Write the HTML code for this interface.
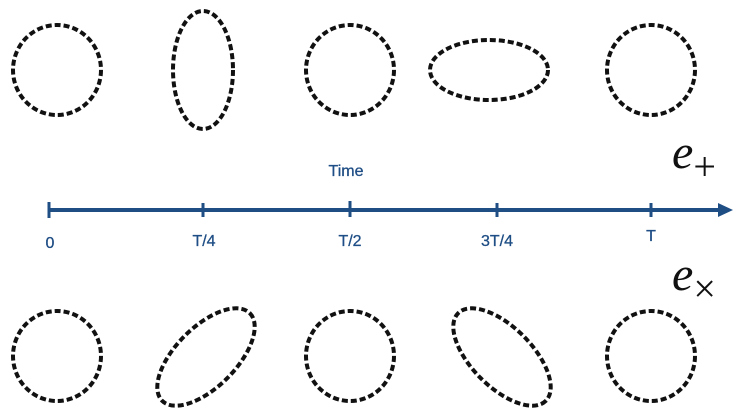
<!DOCTYPE html>
<html><head><meta charset="utf-8"><style>
html,body{margin:0;padding:0;background:#fff;}
svg{display:block;}
.lbl{font-family:"Liberation Sans",Arial,sans-serif;}
.math{font-family:"Liberation Serif",serif;}
</style></head><body>
<svg width="743" height="417" viewBox="0 0 743 417">
<g fill="none" stroke="#111" stroke-width="4" stroke-dasharray="6 3">
  <ellipse cx="57" cy="70" rx="44" ry="45"/>
  <ellipse cx="203" cy="70" rx="30" ry="59"/>
  <ellipse cx="350" cy="70" rx="44" ry="45"/>
  <ellipse cx="489" cy="70" rx="59" ry="30"/>
  <ellipse cx="651" cy="70" rx="44" ry="45"/>
</g>
<g fill="none" stroke="#111" stroke-width="4" stroke-dasharray="6 3">
  <ellipse cx="57" cy="356" rx="44" ry="45"/>
  <ellipse cx="206" cy="357" rx="62" ry="30" transform="rotate(-45 206 357)"/>
  <ellipse cx="350" cy="356" rx="44" ry="45"/>
  <ellipse cx="502" cy="357" rx="62" ry="30" transform="rotate(45 502 357)"/>
  <ellipse cx="651" cy="356" rx="44" ry="45"/>
</g>
<g stroke="#1f4e85" stroke-width="4">
  <line x1="49" y1="210" x2="722" y2="210"/>
  <line x1="49" y1="202" x2="49" y2="218" stroke-width="3"/>
  <line x1="203" y1="203" x2="203" y2="217" stroke-width="3"/>
  <line x1="350" y1="201" x2="350" y2="217" stroke-width="3"/>
  <line x1="497" y1="203" x2="497" y2="217" stroke-width="3"/>
  <line x1="651" y1="203" x2="651" y2="217" stroke-width="3"/>
  <polygon points="718,203 733,210 718,217" fill="#1f4e85" stroke="none"/>
</g>
<g class="lbl" font-size="16" fill="#1f4e85" text-anchor="middle" stroke="#1f4e85" stroke-width="0.3">
  <text x="346" y="176">Time</text>
  <text x="50" y="248">0</text>
  <text x="204" y="246">T/4</text>
  <text x="350" y="246">T/2</text>
  <text x="497" y="246">3T/4</text>
  <text x="651" y="241">T</text>
</g>
<g class="math" fill="#111">
  <text x="672" y="168" font-size="48" font-style="italic">e<tspan font-style="normal" font-size="40" dy="12">+</tspan></text>
  <text x="672" y="290" font-size="48" font-style="italic">e<tspan font-style="normal" font-size="40" dy="12">×</tspan></text>
</g>
</svg>
</body></html>
